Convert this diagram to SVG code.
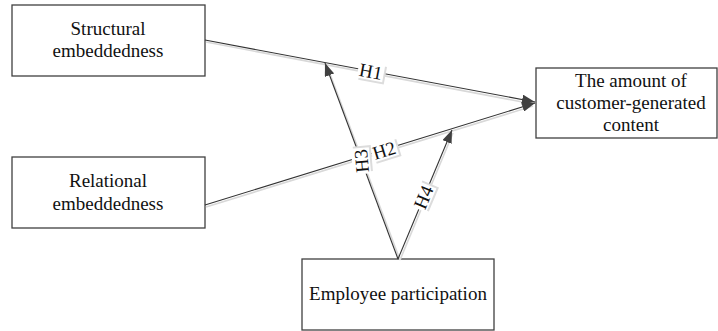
<svg xmlns="http://www.w3.org/2000/svg" width="718" height="331" viewBox="0 0 718 331">
<style>
.box{fill:#fff;stroke:#404040;stroke-width:1.3}
.t{font-family:"Liberation Serif","Times New Roman",serif;font-size:19px;fill:#111;text-anchor:middle}
.ln{stroke:#333;stroke-width:1.1;fill:none}
.sh{stroke:#d8d8d8;stroke-width:1.6;fill:none}
.lb{fill:#fff}
.lbs{fill:#dcdcdc}
</style>
<defs>
<marker id="ah" markerUnits="userSpaceOnUse" markerWidth="14" markerHeight="10" refX="13" refY="5" orient="auto">
<path d="M0,0 L13,5 L0,10 z" fill="#404040"/>
</marker>
</defs>
<rect width="718" height="331" fill="#fff"/>
<g id="n1"><rect class="box" x="12" y="5" width="193" height="71"/><text class="t" x="108" y="35">Structural</text><text class="t" x="108" y="57">embeddedness</text></g>
<g id="n2"><rect class="box" x="12" y="157" width="193" height="71"/><text class="t" x="108" y="187">Relational</text><text class="t" x="108" y="210">embeddedness</text></g>
<g id="n3"><rect class="box" x="536" y="68" width="181" height="70"/><text class="t" x="631" y="87">The amount of</text><text class="t" x="631" y="109">customer-generated</text><text class="t" x="631" y="131">content</text></g>
<g id="n4"><rect class="box" x="302" y="259" width="192" height="71"/><text class="t" x="398" y="300">Employee participation</text></g>
<g id="connectors">
<line class="sh" x1="206" y1="42" x2="533" y2="104"/>
<line class="sh" x1="206" y1="207" x2="533" y2="106"/>
<line class="sh" x1="400" y1="260" x2="327" y2="66"/>
<line class="sh" x1="400" y1="260" x2="453" y2="133"/>
<line class="ln" x1="205" y1="40" x2="535" y2="102" marker-end="url(#ah)"/>
<line class="ln" x1="205" y1="205" x2="535" y2="103" marker-end="url(#ah)"/>
<line class="ln" x1="398" y1="259" x2="325" y2="63" marker-end="url(#ah)"/>
<line class="ln" x1="398" y1="259" x2="452" y2="130" marker-end="url(#ah)"/>
<g transform="translate(371,71) rotate(10.6)"><rect class="lbs" x="-11" y="-7" width="26" height="18"/><rect class="lb" x="-13" y="-9" width="26" height="18"/><text class="t" x="0" y="7">H1</text></g>
<g transform="translate(384,150) rotate(-17.2)"><rect class="lbs" x="-11" y="-7" width="26" height="18"/><rect class="lb" x="-13" y="-9" width="26" height="18"/><text class="t" x="0" y="7">H2</text></g>
<g transform="translate(361,161) rotate(-95)"><rect class="lbs" x="-11" y="-7" width="26" height="18"/><rect class="lb" x="-13" y="-9" width="26" height="18"/><text class="t" x="0" y="7">H3</text></g>
<g transform="translate(423,197) rotate(-67)"><rect class="lbs" x="-11" y="-7" width="26" height="18"/><rect class="lb" x="-13" y="-9" width="26" height="18"/><text class="t" x="0" y="7">H4</text></g>
</g>
</svg>
